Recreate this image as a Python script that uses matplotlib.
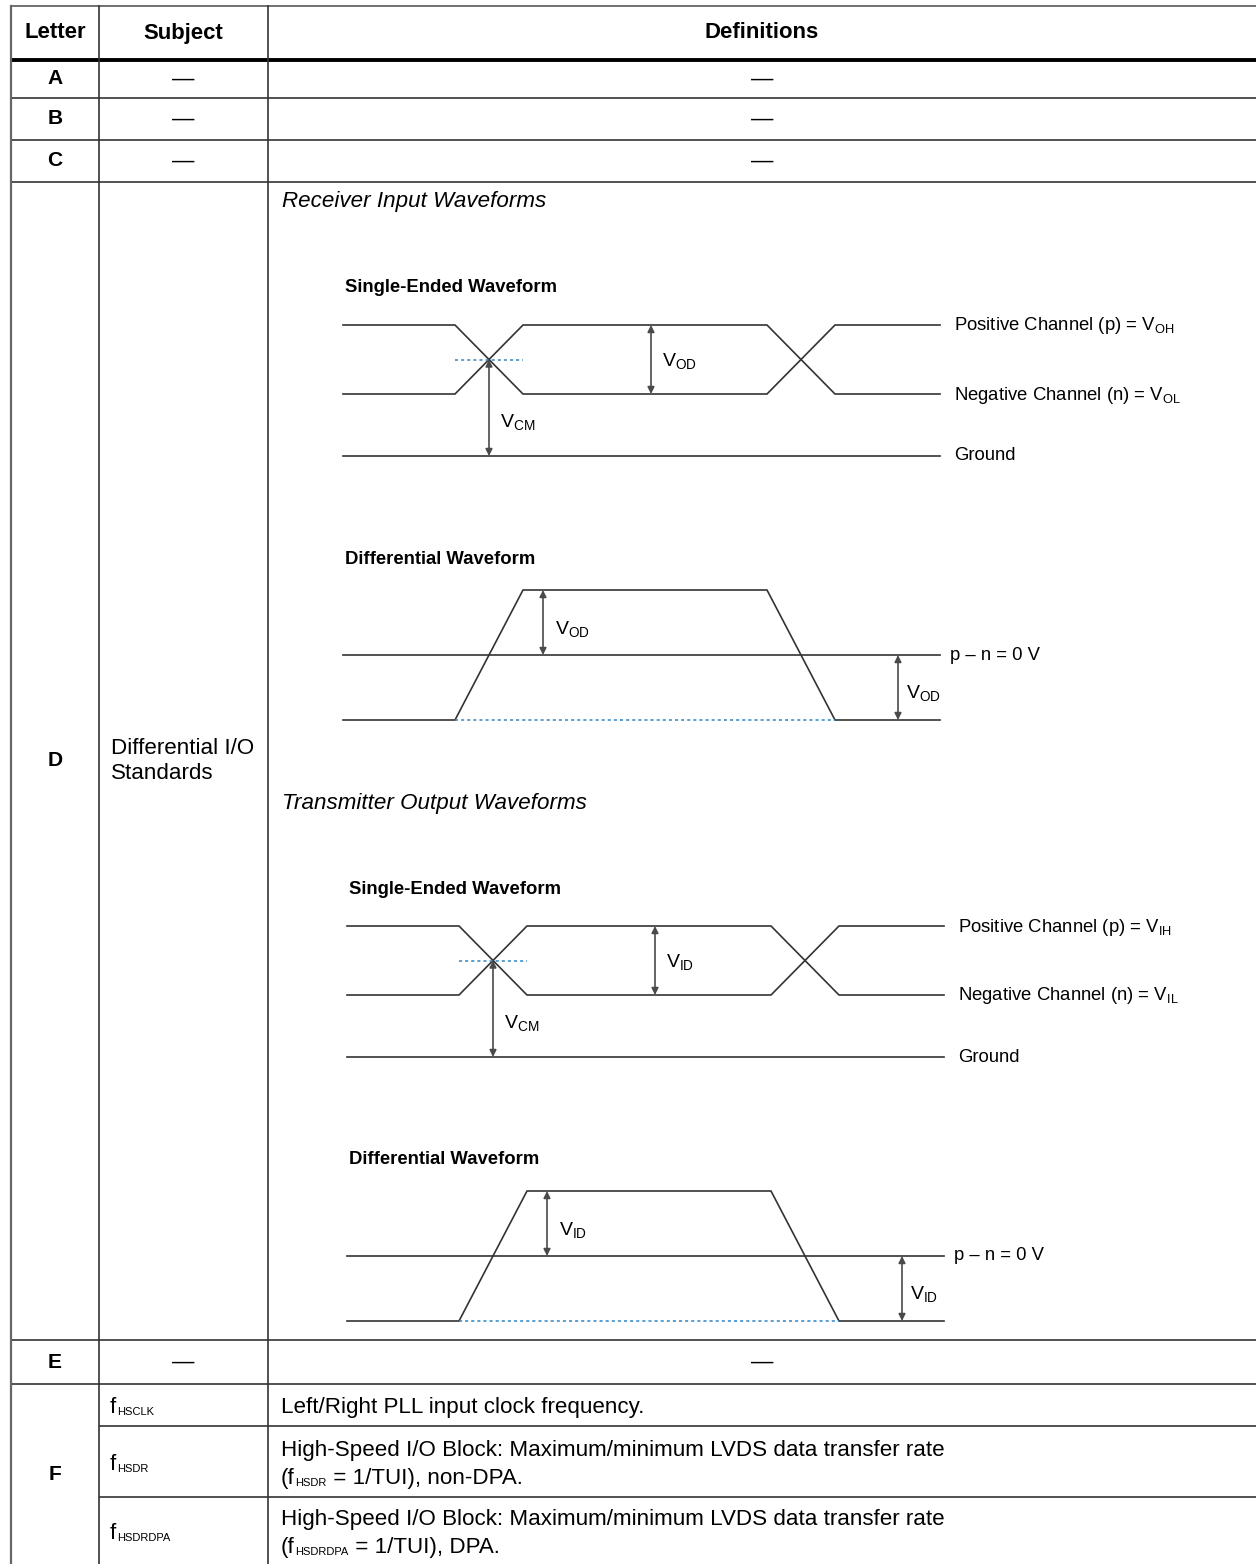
import matplotlib
matplotlib.use('Agg')
import matplotlib.pyplot as plt
from matplotlib import font_manager

names = {f.name for f in font_manager.fontManager.ttflist}
NARROW = 'Liberation Sans Narrow' if 'Liberation Sans Narrow' in names else 'Liberation Sans'
SANS = 'Liberation Sans'
# regular width font is wider than the condensed face of the original
NSCALE = 1.0 if NARROW != SANS else 0.84

plt.rcParams['font.family'] = [SANS, 'DejaVu Sans']
plt.rcParams['mathtext.fontset'] = 'custom'
plt.rcParams['mathtext.rm'] = SANS
plt.rcParams['mathtext.it'] = SANS + ':italic'
plt.rcParams['mathtext.bf'] = SANS + ':bold'

# ---- table content ----
headers = ['Letter', 'Subject', 'Definitions']
letters = ['A', 'B', 'C', 'D', 'E', 'F']
subjects = ['—', '—', '—', 'Differential I/O\nStandards', '—', None]
definitions = ['—', '—', '—', None, '—', None]
f_subs = ['HSCLK', 'HSDR', 'HSDRDPA']
f_defs = [
    [[('Left/Right PLL input clock frequency.', False)]],
    [[('High-Speed I/O Block: Maximum/minimum LVDS data transfer rate', False)],
     [('(f', False), ('HSDR', True), (' = 1/TUI), non-DPA.', False)]],
    [[('High-Speed I/O Block: Maximum/minimum LVDS data transfer rate', False)],
     [('(f', False), ('HSDRDPA', True), (' = 1/TUI), DPA.', False)]],
]

# waveform labels
rx_title = 'Receiver Input Waveforms'
tx_title = 'Transmitter Output Waveforms'
rx_se = dict(vdiff='OD', hi='OH', lo='OL')
tx_se = dict(vdiff='ID', hi='IH', lo='IL')

# layout (pixels)
col_x = [11, 99, 268, 1256]
row_y = [6, 60, 98, 140, 182, 1340, 1384, 1564]
f_row_y = [1384, 1426, 1497, 1564]

fig = plt.figure(figsize=(12.56, 15.64), dpi=100)
ax = fig.add_axes([0, 0, 1, 1])
ax.set_xlim(0, 1256)
ax.set_ylim(1564, 0)
ax.axis('off')

LINE = '#333333'
GRAY = '#666666'

# ---- grid ----
ax.plot([col_x[0], col_x[-1]], [row_y[0]] * 2, color=GRAY, lw=1.3, solid_capstyle='butt')
ax.plot([col_x[0], col_x[-1]], [row_y[1]] * 2, color='black', lw=2.8, solid_capstyle='butt')
for y in row_y[2:-1]:
    ax.plot([col_x[0], col_x[-1]], [y, y], color=LINE, lw=1.2, solid_capstyle='butt')
for y in f_row_y[1:-1]:
    ax.plot([col_x[1], col_x[-1]], [y, y], color=LINE, lw=1.2, solid_capstyle='butt')
ax.plot([col_x[0]] * 2, [row_y[0], row_y[-1]], color=GRAY, lw=1.6)
for x in col_x[1:-1]:
    ax.plot([x, x], [row_y[0], row_y[-1]], color=LINE, lw=1.2)


def pt2px(pt):
    return pt * 100 / 72


def run_text(x, yc, parts, size, subsize, family):
    yb = yc + 0.36 * pt2px(size)
    prev = None
    for txt, sub in parts:
        fs = subsize if sub else size
        if prev is None:
            prev = ax.text(x, yb, txt, fontsize=fs, family=family, va='baseline', ha='left')
        else:
            prev = ax.annotate(txt, xy=(1, yb), xycoords=(prev, 'data'),
                               xytext=(0.5 if sub else 0, -1.5 if sub else 0),
                               textcoords='offset points', fontsize=fs,
                               family=family, va='baseline', ha='left')
    return prev


HEAD_FS = 19 * NSCALE
LET_FS = 18 * NSCALE
BODY_FS = 19.2 * NSCALE
SUB_FS = 9.5 * NSCALE
cx = [(col_x[i] + col_x[i + 1]) / 2 for i in range(3)]

for i, h in enumerate(headers):
    ax.text(cx[i], (row_y[0] + row_y[1]) / 2, h, fontsize=HEAD_FS, family=NARROW,
            weight='bold', ha='center', va='center')

for i, let in enumerate(letters):
    yc = (row_y[i + 1] + row_y[i + 2]) / 2
    ax.text(cx[0], yc, let, fontsize=LET_FS, family=NARROW, weight='bold',
            ha='center', va='center')
    s = subjects[i]
    if s == '—':
        ax.text(cx[1], yc, s, fontsize=BODY_FS, family=NARROW, ha='center', va='center')
    elif s is not None:
        ax.text(col_x[1] + 12, yc, s, fontsize=BODY_FS, family=NARROW, ha='left',
                va='center', linespacing=1.2)
    d = definitions[i]
    if d is not None:
        ax.text(cx[2], yc, d, fontsize=BODY_FS, family=NARROW, ha='center', va='center')

# row F sub rows
for j, sub in enumerate(f_subs):
    y0, y1 = f_row_y[j], f_row_y[j + 1]
    yc = (y0 + y1) / 2
    run_text(col_x[1] + 11, yc, [('f', False), (sub, True)], BODY_FS, SUB_FS, NARROW)
    lines = f_defs[j]
    n = len(lines)
    for k, parts in enumerate(lines):
        ly = yc + (k - (n - 1) / 2) * 28
        run_text(col_x[2] + 13, ly, parts, BODY_FS, SUB_FS, NARROW)

# ---- waveform diagrams ----
DFS = 13.3
steps = [0, 112, 180, 424, 492, 597]
BLUE = '#2f86c4'


def varrow(x, y1, y2):
    ax.annotate('', xy=(x, y2), xytext=(x, y1),
                arrowprops=dict(arrowstyle='<|-|>', color='#4a4a4a', lw=1.2,
                                mutation_scale=10, shrinkA=0, shrinkB=0))


def vlabel(x, y, sub):
    ax.text(x, y, r'$\mathrm{V}_{\mathrm{%s}}$' % sub, fontsize=14, ha='left', va='center')


def single_ended(x0, yt, lab):
    hi, lo, gnd = yt, yt + 69, yt + 131
    xs = [x0 + s for s in steps]
    ax.text(x0 + 2, yt - 37, 'Single-Ended Waveform', fontsize=DFS, weight='bold', va='center')
    ax.plot(xs, [hi, hi, lo, lo, hi, hi], color=LINE, lw=1.2)
    ax.plot(xs, [lo, lo, hi, hi, lo, lo], color=LINE, lw=1.2)
    ax.plot([xs[0], xs[-1]], [gnd, gnd], color=LINE, lw=1.2)
    yc = (hi + lo) / 2
    ax.plot([xs[1], xs[2]], [yc, yc], color=BLUE, lw=1.1, ls=(0, (2, 2)))
    xc = (xs[1] + xs[2]) / 2
    varrow(xc, yc, gnd)
    varrow(x0 + 308, hi, lo)
    vlabel(x0 + 319, yt + 36, lab['vdiff'])
    vlabel(x0 + 157, yt + 97, 'CM')
    ax.text(x0 + 611, hi + 1, r'Positive Channel (p) = $\mathrm{V}_{\mathrm{%s}}$' % lab['hi'],
            fontsize=DFS, va='center')
    ax.text(x0 + 611, lo + 1, r'Negative Channel (n) = $\mathrm{V}_{\mathrm{%s}}$' % lab['lo'],
            fontsize=DFS, va='center')
    ax.text(x0 + 611, gnd, 'Ground', fontsize=DFS, va='center')


def differential(x0, yt, vname):
    top, mid, bot = yt, yt + 65, yt + 130
    xs = [x0 + s for s in steps]
    ax.text(x0 + 2, yt - 31, 'Differential Waveform', fontsize=DFS, weight='bold', va='center')
    ax.plot(xs, [bot, bot, top, top, bot, bot], color=LINE, lw=1.2)
    ax.plot([xs[1], xs[4]], [bot, bot], color=BLUE, lw=1.1, ls=(0, (2, 2)))
    ax.plot([xs[0], xs[-1]], [mid, mid], color=LINE, lw=1.2)
    varrow(x0 + 200, top, mid)
    varrow(x0 + 555, mid, bot)
    vlabel(x0 + 212, top + 39, vname)
    vlabel(x0 + 563, mid + 38, vname)
    ax.text(x0 + 607, mid, 'p – n = 0 V', fontsize=DFS, va='center')


ax.text(282, 201, rx_title, fontsize=BODY_FS, family=NARROW, style='italic', va='center')
single_ended(343, 325, rx_se)
differential(343, 590, rx_se['vdiff'])

ax.text(282, 804, tx_title, fontsize=BODY_FS, family=NARROW, style='italic', va='center')
single_ended(347, 926, tx_se)
differential(347, 1191, tx_se['vdiff'])

fig.savefig('out.png', dpi=100)
